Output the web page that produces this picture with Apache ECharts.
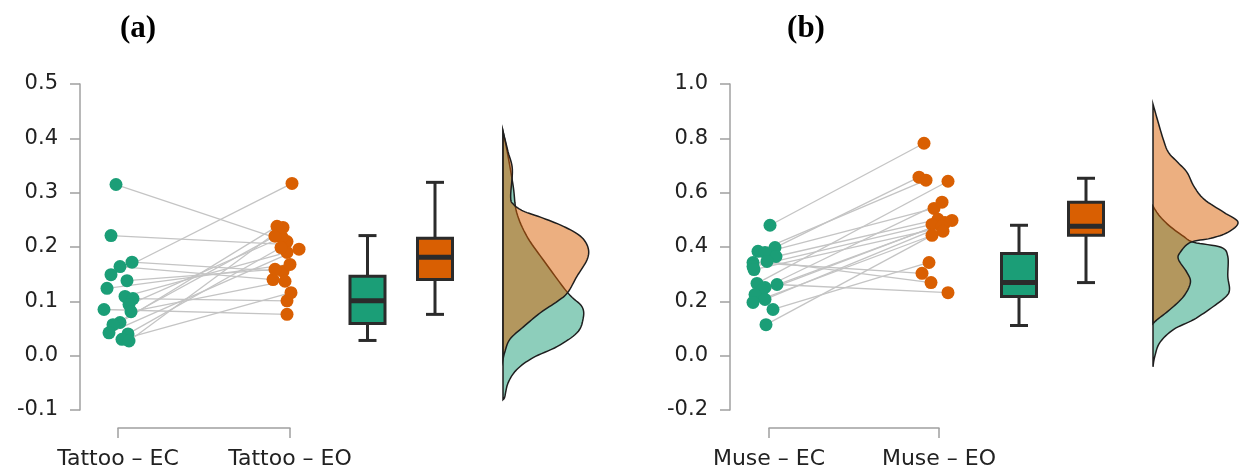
<!DOCTYPE html>
<html>
<head>
<meta charset="utf-8">
<script src="https://cdn.jsdelivr.net/npm/echarts@6/dist/echarts.min.js"></script>
<style>
html, body { margin: 0; padding: 0; background: #fff; }
#main { width: 1239px; height: 471px; }
</style>
</head>
<body>
<div id="main"></div>
<script>
// ---- data, panel (a) Tattoo ----
var tattooLabels = ['Tattoo – EC', 'Tattoo – EO'];
var tattooEC = [0.315, 0.221, 0.172, 0.164, 0.149, 0.138, 0.124, 0.109, 0.105, 0.094, 0.085, 0.081, 0.061, 0.057, 0.042, 0.040, 0.030, 0.027];
var tattooEO = [0.210, 0.205, 0.155, 0.140, 0.317, 0.159, 0.168, 0.190, 0.101, 0.218, 0.076, 0.137, 0.238, 0.220, 0.196, 0.199, 0.116, 0.236];
var tattooJitterEC = [-2, -7, 14, 2, -7, 9, -11, 7, 15, 11, -14, 13, 2, -5, -9, 10, 4, 11];
var tattooJitterEO = [-3, -5, -7, -17, 2, -15, 0, -3, -3, -8, -3, -5, -13, -15, 9, -9, 1, -7];
// min, q1, median, q3, max
var tattooBoxEC = [0.028, 0.059, 0.101, 0.146, 0.221];
var tattooBoxEO = [0.076, 0.140, 0.181, 0.216, 0.319];
// density outline: [value, relative density]
var tattooDensEC = [[0.413, 0], [0.375, 0.05], [0.312, 0.12], [0.264, 0.16], [0.220, 0.28], [0.177, 0.47], [0.116, 0.76], [0.090, 0.93], [0.066, 0.94], [0.042, 0.87], [0.017, 0.64], [-0.004, 0.35], [-0.026, 0.16], [-0.050, 0.06], [-0.076, 0.02], [-0.081, 0]];
var tattooDensEO = [[0.413, 0], [0.375, 0.06], [0.343, 0.11], [0.293, 0.09], [0.279, 0.12], [0.266, 0.24], [0.255, 0.44], [0.238, 0.71], [0.220, 0.91], [0.199, 1.0], [0.177, 0.99], [0.146, 0.87], [0.116, 0.76], [0.100, 0.64], [0.079, 0.44], [0.053, 0.24], [0.030, 0.08], [0.006, 0.02], [-0.007, 0]];

// ---- data, panel (b) Muse ----
var museLabels = ['Muse – EC', 'Muse – EO'];
var museEC = [0.480, 0.398, 0.384, 0.380, 0.365, 0.347, 0.343, 0.328, 0.317, 0.266, 0.262, 0.251, 0.240, 0.225, 0.207, 0.196, 0.170, 0.114];
var museEO = [0.782, 0.657, 0.646, 0.542, 0.502, 0.269, 0.303, 0.483, 0.472, 0.642, 0.232, 0.565, 0.498, 0.490, 0.476, 0.458, 0.343, 0.443];
var museJitterEC = [1, 6, -11, -4, 7, -2, -16, -16, -15, -12, 8, -4, -7, -14, -4, -16, 4, -3];
var museJitterEO = [-15, -20, -13, -5, -1, -8, -17, -7, 3, 9, 9, 3, 13, 6, 3, 4, -10, -7];
var museBoxEC = [0.111, 0.218, 0.269, 0.376, 0.480];
var museBoxEO = [0.269, 0.443, 0.476, 0.565, 0.653];
var museDensEC = [[0.550, 0], [0.513, 0.08], [0.476, 0.20], [0.439, 0.36], [0.417, 0.48], [0.399, 0.80], [0.365, 0.88], [0.292, 0.88], [0.244, 0.90], [0.218, 0.86], [0.181, 0.71], [0.133, 0.48], [0.096, 0.24], [0.048, 0.08], [-0.004, 0.02], [-0.041, 0]];
var museDensEO = [[0.926, 0], [0.860, 0.06], [0.797, 0.12], [0.749, 0.18], [0.712, 0.29], [0.675, 0.40], [0.624, 0.48], [0.576, 0.60], [0.528, 0.83], [0.491, 1.0], [0.454, 0.88], [0.432, 0.68], [0.417, 0.44], [0.380, 0.32], [0.354, 0.30], [0.306, 0.40], [0.269, 0.44], [0.218, 0.36], [0.170, 0.20], [0.133, 0.05], [0.118, 0]];

var green = '#1b9e77';
var orange = '#d95f02';
var font = 'DejaVu Sans';

var panels = [
    {
        title: '(a)', titleX: 133, axisX: 80, width: 520, bracket: [118, 172],
        yMin: -0.1, yMax: 0.5, step: 0.1, labels: tattooLabels,
        ec: tattooEC, eo: tattooEO, jEC: tattooJitterEC, jEO: tattooJitterEO,
        box: [tattooBoxEC, tattooBoxEO], dens: [tattooDensEC, tattooDensEO],
        ecX: 38, eoX: 210, boxX: [287.5, 355], densX: 423
    },
    {
        title: '(b)', titleX: 801, axisX: 730, width: 509, bracket: [769, 170],
        yMin: -0.2, yMax: 1.0, step: 0.2, labels: museLabels,
        ec: museEC, eo: museEO, jEC: museJitterEC, jEO: museJitterEO,
        box: [museBoxEC, museBoxEO], dens: [museDensEC, museDensEO],
        ecX: 39, eoX: 209, boxX: [289, 356], densX: 423
    }
];

// catmull-rom through the outline pixels, just for drawing a smooth edge
function smoothOutline(pts, baseX) {
    var out = [], n = pts.length;
    for (var i = 0; i < n - 1; i++) {
        var p0 = pts[Math.max(i - 1, 0)], p1 = pts[i], p2 = pts[i + 1], p3 = pts[Math.min(i + 2, n - 1)];
        for (var s = 0; s < 8; s++) {
            var t = s / 8, t2 = t * t, t3 = t2 * t;
            var q = [0, 1].map(function (k) {
                return 0.5 * (2 * p1[k] + (-p0[k] + p2[k]) * t +
                    (2 * p0[k] - 5 * p1[k] + 4 * p2[k] - p3[k]) * t2 +
                    (-p0[k] + 3 * p1[k] - 3 * p2[k] + p3[k]) * t3);
            });
            q[0] = Math.max(q[0], baseX);
            out.push(q);
        }
    }
    out.push(pts[n - 1]);
    return out;
}

var myChart = echarts.init(document.getElementById('main'));

var grids = [], xAxes = [], yAxes = [], titles = [], series = [];

panels.forEach(function (p, i) {
    var g = i * 2;
    grids.push({ left: p.axisX, top: 84, width: p.width, height: 326 });
    grids.push({ left: p.bracket[0], top: 427, width: p.bracket[1], height: 1 });
    titles.push({
        text: p.title, left: p.titleX, top: 8, textAlign: 'center',
        textStyle: { fontFamily: 'Liberation Serif', fontWeight: 'bold', fontSize: 31, color: '#000' }
    });

    xAxes.push({ gridIndex: g, type: 'value', min: 0, max: p.width, show: false });
    xAxes.push({
        gridIndex: g + 1, type: 'category', data: p.labels, boundaryGap: false,
        axisLine: { lineStyle: { color: '#a0a0a0', width: 1.5 } },
        axisTick: { length: 10, lineStyle: { color: '#a0a0a0', width: 1.5 } },
        axisLabel: { color: '#222', fontSize: 22, fontFamily: font, margin: 20 }
    });
    yAxes.push({
        gridIndex: g, type: 'value', min: p.yMin, max: p.yMax, interval: p.step,
        axisLine: { show: true, lineStyle: { color: '#a0a0a0', width: 1.5 } },
        axisTick: { show: true, length: 10, lineStyle: { color: '#a0a0a0', width: 1.5 } },
        splitLine: { show: false },
        axisLabel: {
            color: '#222', fontSize: 21, fontFamily: font, margin: 22,
            formatter: function (v) { return v.toFixed(1); }
        }
    });
    yAxes.push({ gridIndex: g + 1, type: 'value', show: false });

    // paired lines
    var links = p.ec.map(function (v, k) {
        return { coords: [[p.ecX + p.jEC[k], v], [p.eoX + p.jEO[k], p.eo[k]]] };
    });
    series.push({
        type: 'lines', coordinateSystem: 'cartesian2d', xAxisIndex: g, yAxisIndex: g,
        data: links, silent: true, z: 1,
        lineStyle: { color: '#c4c4c4', width: 1.3, opacity: 1 }
    });
    series.push({
        type: 'scatter', xAxisIndex: g, yAxisIndex: g, symbolSize: 13, z: 3,
        itemStyle: { color: green, opacity: 1 },
        data: p.ec.map(function (v, k) { return [p.ecX + p.jEC[k], v]; })
    });
    series.push({
        type: 'scatter', xAxisIndex: g, yAxisIndex: g, symbolSize: 13, z: 3,
        itemStyle: { color: orange, opacity: 1 },
        data: p.eo.map(function (v, k) { return [p.eoX + p.jEO[k], v]; })
    });

    // boxes
    series.push({
        type: 'custom', xAxisIndex: g, yAxisIndex: g, z: 2,
        data: p.box,
        renderItem: function (params, api) {
            var cx = p.boxX[params.dataIndex];
            var col = params.dataIndex === 0 ? green : orange;
            var lo = api.coord([cx, api.value(0)]);
            var q1 = api.coord([cx, api.value(1)]);
            var md = api.coord([cx, api.value(2)]);
            var q3 = api.coord([cx, api.value(3)]);
            var hi = api.coord([cx, api.value(4)]);
            var x = lo[0], hw = 17.5, cw = 9;
            var ls = { stroke: '#2b2b2b', lineWidth: 3 };
            return {
                type: 'group',
                children: [
                    { type: 'line', shape: { x1: x, y1: hi[1], x2: x, y2: q3[1] }, style: ls },
                    { type: 'line', shape: { x1: x, y1: q1[1], x2: x, y2: lo[1] }, style: ls },
                    { type: 'line', shape: { x1: x - cw, y1: hi[1], x2: x + cw, y2: hi[1] }, style: ls },
                    { type: 'line', shape: { x1: x - cw, y1: lo[1], x2: x + cw, y2: lo[1] }, style: ls },
                    { type: 'rect', shape: { x: x - hw, y: q3[1], width: hw * 2, height: q1[1] - q3[1] },
                      style: { fill: col, stroke: '#2b2b2b', lineWidth: 3 } },
                    { type: 'line', shape: { x1: x - hw, y1: md[1], x2: x + hw, y2: md[1] },
                      style: { stroke: '#2b2b2b', lineWidth: 5 } }
                ]
            };
        }
    });

    // densities (green below, orange above)
    [0, 1].forEach(function (d) {
        var curve = p.dens[d];
        series.push({
            type: 'custom', xAxisIndex: g, yAxisIndex: g, z: 2 + d,
            data: [[p.densX, curve[0][0]]],
            renderItem: function (params, api) {
                var raw = curve.map(function (c) { return api.coord([p.densX + c[1] * 85, c[0]]); });
                var baseX = api.coord([p.densX, 0])[0];
                return {
                    type: 'polygon',
                    shape: { points: smoothOutline(raw, baseX) },
                    style: {
                        fill: d === 0 ? 'rgba(27,158,119,0.5)' : 'rgba(217,95,2,0.5)',
                        stroke: '#1e1e1e', lineWidth: 1.5
                    }
                };
            }
        });
    });
});

option = {
    animation: false,
    backgroundColor: '#fff',
    title: titles,
    grid: grids,
    xAxis: xAxes,
    yAxis: yAxes,
    series: series
};

myChart.setOption(option);
</script>
</body>
</html>
